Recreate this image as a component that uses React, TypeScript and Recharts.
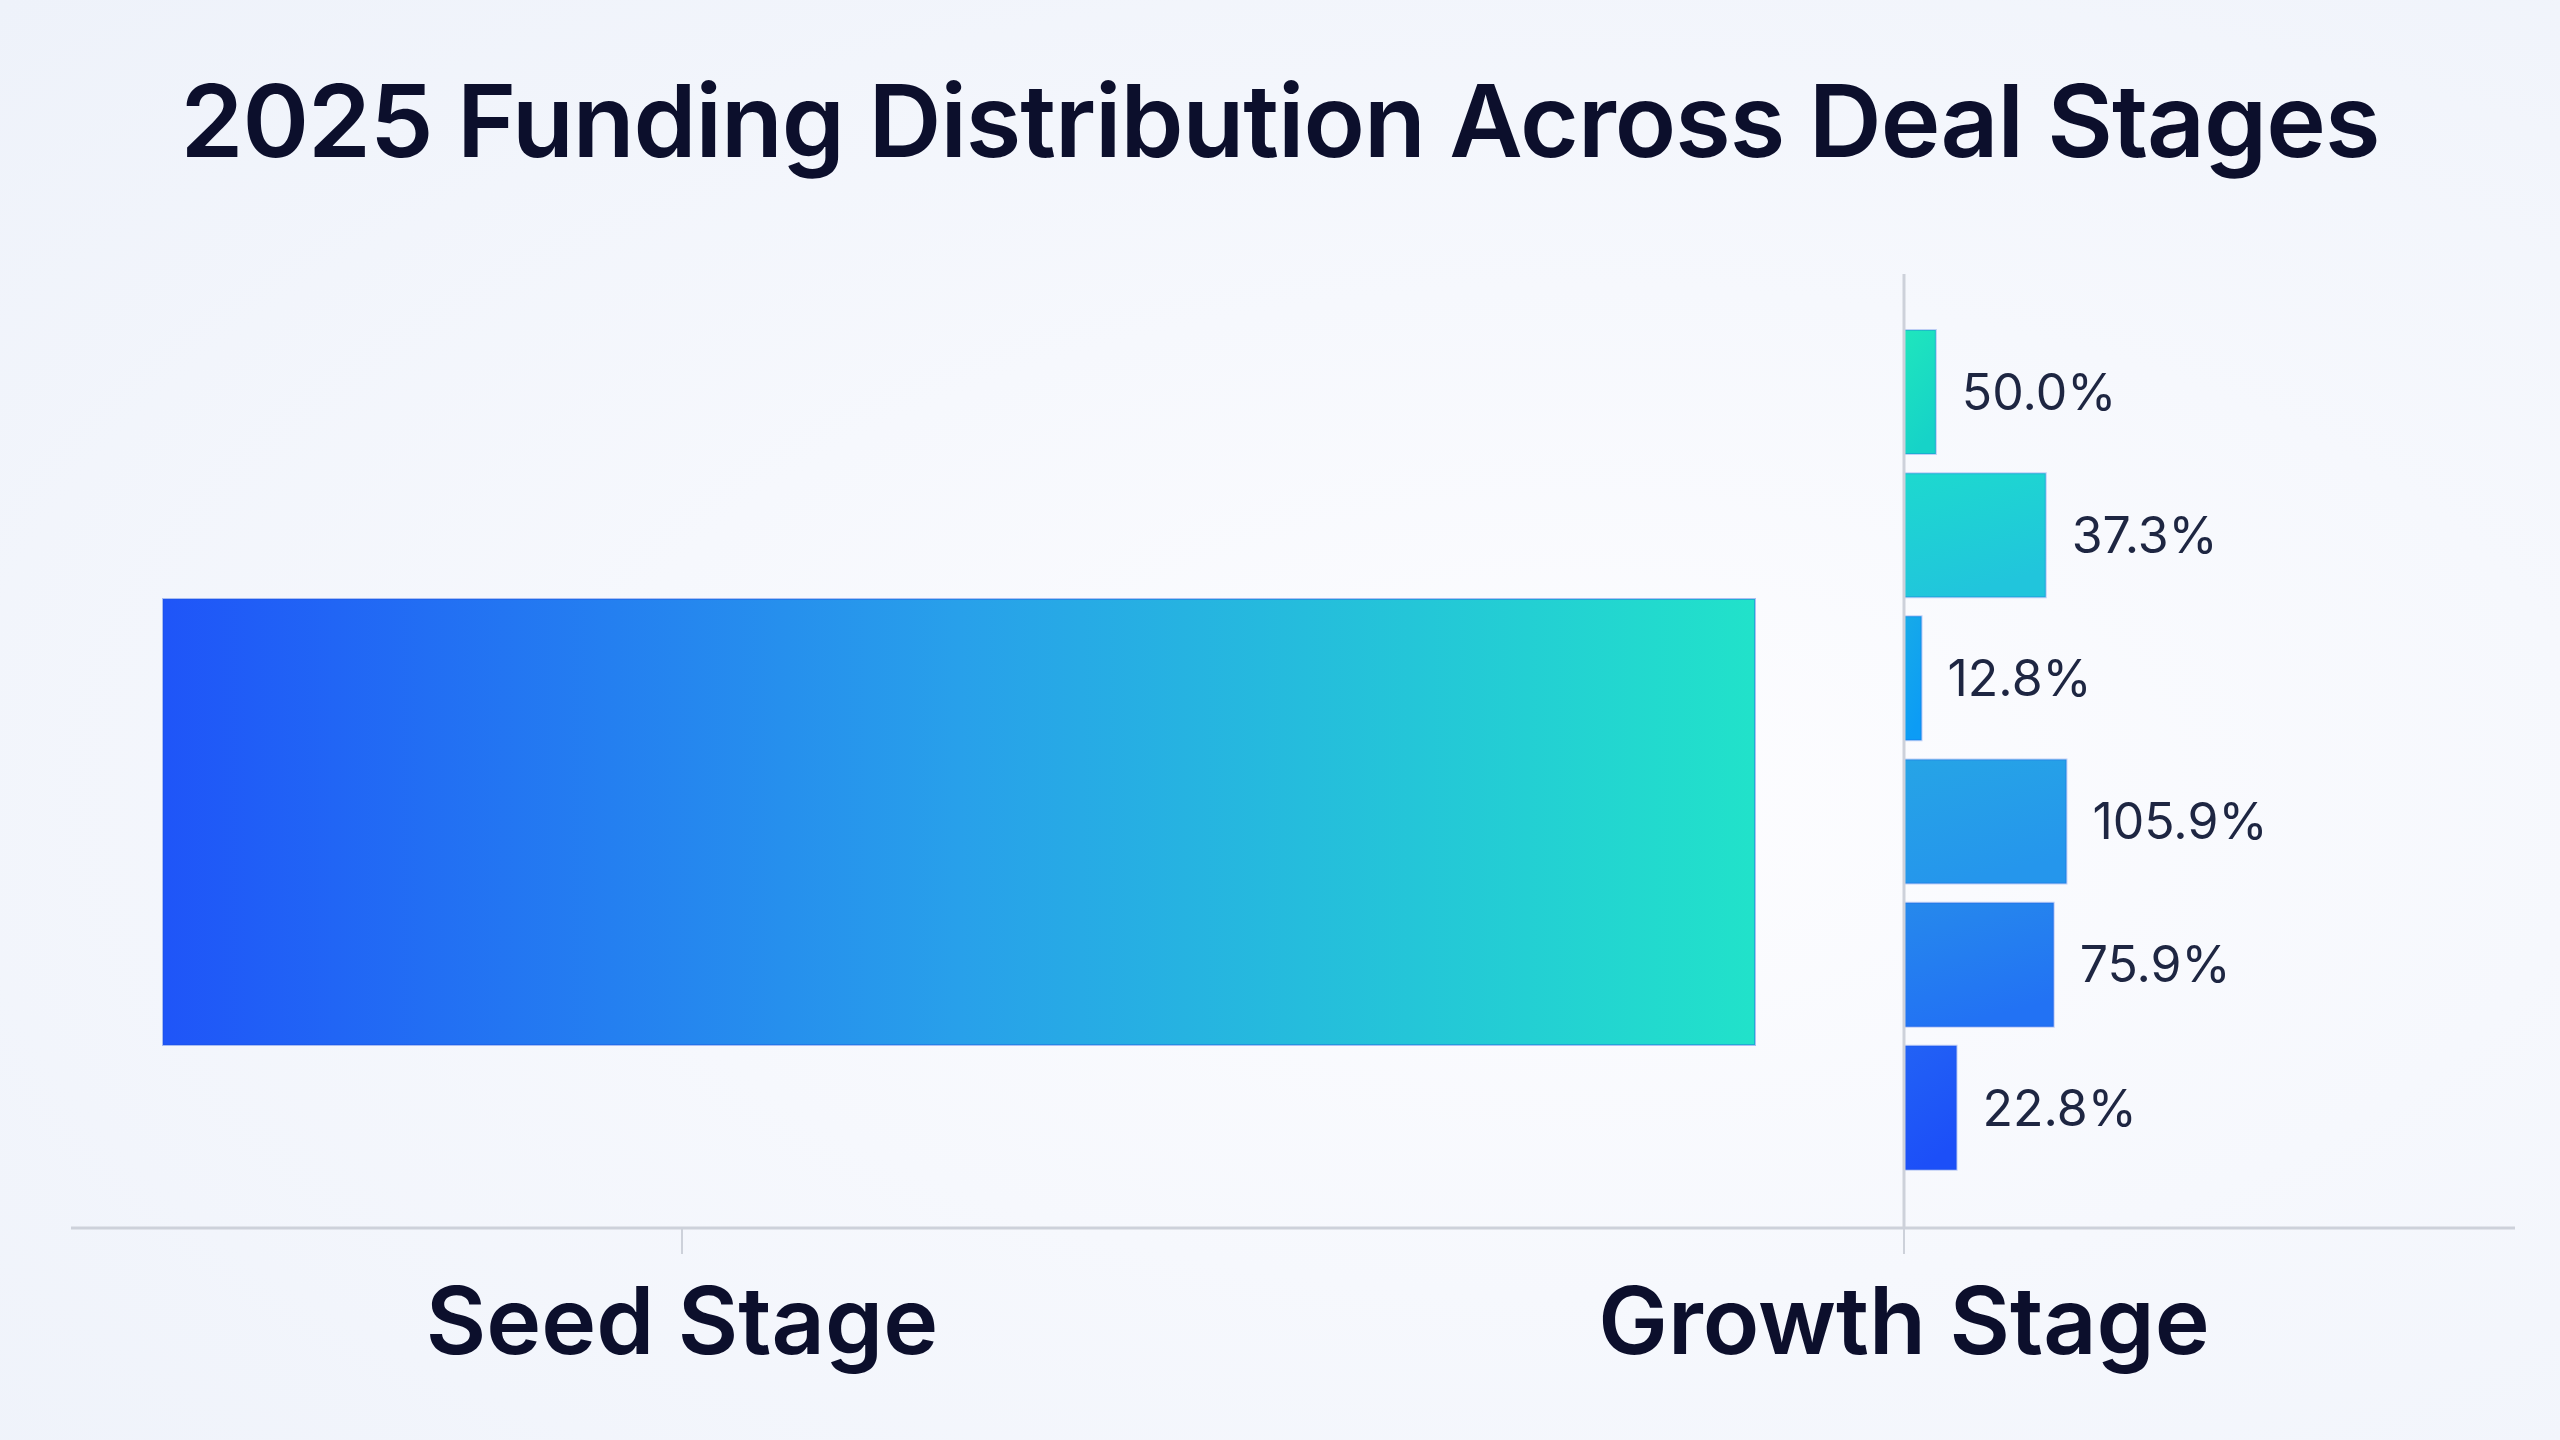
import React from 'react';
import { BarChart, Bar, XAxis, YAxis, LabelList, Cell } from 'recharts';

// Deal stages on the shared category axis
const stages = ['Seed Stage', 'Growth Stage'];

// Funding volume (index, Seed = 100) — drives bar length
const seedFunding = [100];
const growthFunding = [2.0, 8.9, 1.1, 10.2, 9.4, 3.3];

// Year-over-year change shown next to each growth bar
const growthChange = [50.0, 37.3, 12.8, 105.9, 75.9, 22.8];

// gradient stops per growth bar
const growthTop = ['#1fe6bd', '#1dd9cf', '#17abe8', '#26a4e6', '#2689ec', '#2262f5'];
const growthBottom = ['#16d3c8', '#21c5dc', '#0c9cf5', '#2596ec', '#2272f4', '#1c4ff8'];

const W = 2560;
const H = 1440;
const FONT = 'Inter, "Noto Sans", sans-serif';
const INK = '#0c0f2c';
const AXIS = '#cdd1da';

const stageRows = stages.map((stage) => ({ stage }));
const seedRows = [{ stage: stages[0], funding: seedFunding[0] }];
const growthRows = growthFunding.map((funding, i) => ({
  id: `growth-${i}`,
  funding,
  change: growthChange[i],
}));

const layer: React.CSSProperties = { position: 'absolute', left: 0, top: 0 };

export default function App() {
  return (
    <div
      style={{
        position: 'fixed',
        left: 0,
        top: 0,
        width: W,
        height: H,
        overflow: 'hidden',
        fontFamily: FONT,
        background: 'radial-gradient(ellipse at 62% 55%, #fdfdff 0%, #f6f8fd 45%, #eef2fa 100%)',
      }}
    >
      <div
        style={{
          position: 'absolute',
          left: 0,
          top: 70,
          width: W,
          textAlign: 'center',
          fontSize: 101,
          lineHeight: 1,
          fontWeight: 600,
          color: INK,
          letterSpacing: -1,
        }}
      >
        2025 Funding Distribution Across Deal Stages
      </div>

      {/* category axis: Seed / Growth */}
      <div style={layer}>
        <BarChart width={W} height={H} data={stageRows} margin={{ top: 274, left: 71, right: 45, bottom: 62 }}>
          <XAxis
            dataKey="stage"
            height={150}
            axisLine={{ stroke: AXIS, strokeWidth: 3 }}
            tickLine={{ stroke: AXIS, strokeWidth: 2 }}
            tickSize={26}
            tickMargin={34}
            tick={{ fill: INK, fontSize: 93, fontWeight: 600, fontFamily: FONT }}
          />
          <YAxis hide />
        </BarChart>
      </div>

      {/* seed stage bar */}
      <div style={layer}>
        <BarChart
          width={W}
          height={H}
          layout="vertical"
          data={seedRows}
          barCategoryGap={0}
          margin={{ top: 599, left: 163, right: 805, bottom: 395 }}
        >
          <defs>
            <linearGradient id="seedGrad" x1="0" y1="0" x2="1" y2="0">
              <stop offset="0%" stopColor="#1f55f8" />
              <stop offset="50%" stopColor="#28a0ea" />
              <stop offset="100%" stopColor="#21e2ca" />
            </linearGradient>
          </defs>
          <XAxis type="number" domain={[0, 100]} hide />
          <YAxis type="category" dataKey="stage" hide />
          <Bar
            dataKey="funding"
            fill="url(#seedGrad)"
            stroke="#1b4fe0"
            strokeOpacity={0.35}
            strokeWidth={2}
            isAnimationActive={false}
          />
        </BarChart>
      </div>

      {/* growth stage bars */}
      <div style={layer}>
        <BarChart
          width={W}
          height={H}
          layout="vertical"
          data={growthRows}
          barSize={124}
          margin={{ top: 274, left: 1903, right: 19, bottom: 212 }}
        >
          <defs>
            {growthRows.map((r, i) => (
              <linearGradient key={r.id} id={`g${i}`} x1="0" y1="0" x2="0.3" y2="1">
                <stop offset="0%" stopColor={growthTop[i]} />
                <stop offset="100%" stopColor={growthBottom[i]} />
              </linearGradient>
            ))}
          </defs>
          <XAxis type="number" domain={[0, 40]} hide />
          <YAxis
            type="category"
            dataKey="id"
            width={1}
            tick={false}
            tickLine={false}
            axisLine={{ stroke: AXIS, strokeWidth: 3 }}
            padding={{ top: 46, bottom: 49 }}
          />
          <Bar
            dataKey="funding"
            stroke="#1b4fe0"
            strokeOpacity={0.25}
            strokeWidth={2}
            isAnimationActive={false}
          >
            {growthRows.map((r, i) => (
              <Cell key={r.id} fill={`url(#g${i})`} />
            ))}
            <LabelList
              dataKey="change"
              position="right"
              offset={26}
              formatter={(v: number) => `${v.toFixed(1)}%`}
              fill="#1e2642"
              fontSize={50}
              fontFamily={FONT}
            />
          </Bar>
        </BarChart>
      </div>
    </div>
  );
}
